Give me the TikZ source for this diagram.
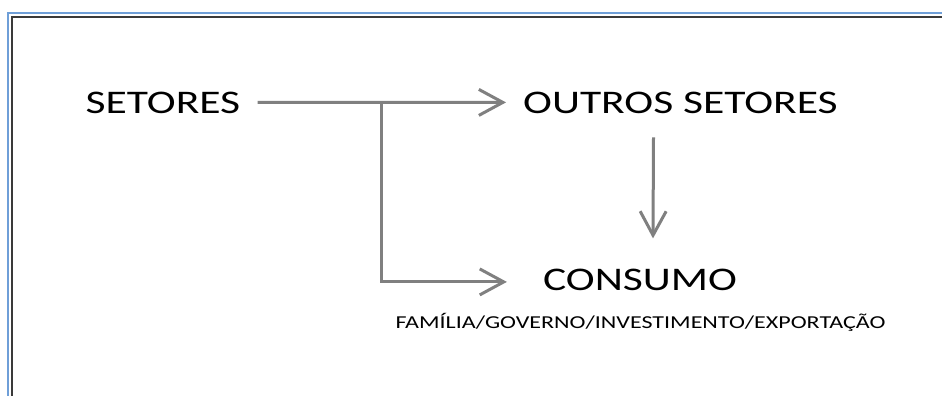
\documentclass[tikz,border=0pt]{standalone}
\usepackage{fontspec}
\usepackage{tikz}
\usetikzlibrary{arrows.meta,positioning,calc}
\newfontfamily\calib[FakeStretch=1.32]{Carlito}
\definecolor{setagray}{HTML}{808080}
\definecolor{molduraazul}{HTML}{6F9FD8}
\definecolor{molduraescura}{HTML}{3A3A3A}

\begin{document}
\begin{tikzpicture}[x=1pt,y=-1pt,
lbl/.style={anchor=base,inner xsep=17pt,inner ysep=0pt,text=black,font=\calib\fontsize{33}{36}\selectfont},
sub/.style={anchor=base,inner sep=0pt,text=black,font=\calib\fontsize{18.2}{20}\selectfont},
arr/.style={-{Straight Barb[length=24pt,width=26pt]},line width=3pt,setagray}]
\useasboundingbox (0,0) rectangle (942,396);
\fill[white] (0,0) rectangle (942,396);
% moldura
\draw[molduraazul,line width=2pt] (7.5,396) -- (7.5,13.3) -- (942,13.3);
\draw[molduraescura,line width=2pt] (12,396) -- (12,17.3) -- (942,17.3);
% textos
\node[lbl] (setores) at (163,113) {SETORES};
\node[lbl] (outros) at (680.5,113) {OUTROS SETORES};
\node[lbl] (consumo) at (640,290) {CONSUMO};
\node[sub] (destino) at (640.5,328) {FAMÍLIA/GOVERNO/INVESTIMENTO/EXPORTAÇÃO};
% setas
\coordinate (split) at ($(setores.east)!0.5!(outros.west)$);
\draw[arr] (setores.east) -- (outros.west);
\draw[arr] (split) |- ([xshift=-19pt,yshift=-2.5pt]consumo.west);
\draw[arr] ([xshift=-27pt,yshift=-24pt]outros.south) -- ([xshift=13pt,yshift=30pt]consumo.north);
\end{tikzpicture}
\end{document}
